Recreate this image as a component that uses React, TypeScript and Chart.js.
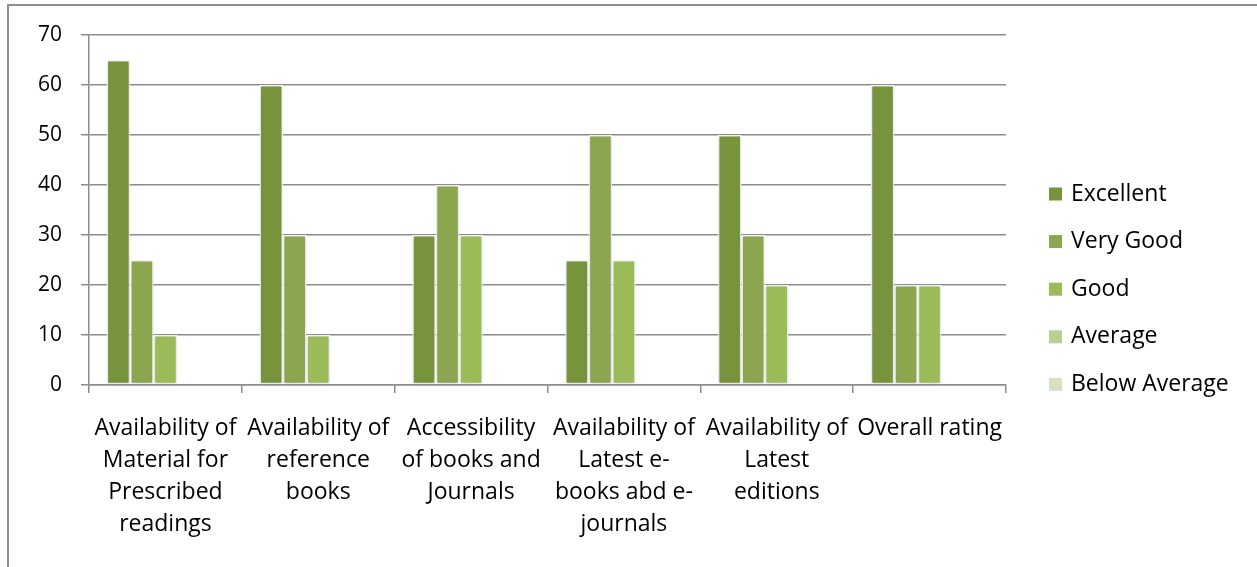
import React, { useEffect, useRef } from "react";
import { Chart, registerables } from "chart.js";

Chart.register(...registerables);

const categories: string[][] = [
  ["Availability of", "Material for", "Prescribed", "readings"],
  ["Availability of", "reference", "books"],
  ["Accessibility", "of books and", "Journals"],
  ["Availability of", "Latest e-", "books abd e-", "journals"],
  ["Availability of", "Latest", "editions"],
  ["Overall rating"],
];

const seriesNames = ["Excellent", "Very Good", "Good", "Average", "Below Average"];
const excellent = [65, 60, 30, 25, 50, 60];
const veryGood = [25, 30, 40, 50, 30, 20];
const good = [10, 10, 30, 25, 20, 20];
const average = [0, 0, 0, 0, 0, 0];
const belowAverage = [0, 0, 0, 0, 0, 0];
const yTicks = [0, 10, 20, 30, 40, 50, 60, 70];

const colors = ["#77933C", "#8CA54F", "#9BBB59", "#BACF92", "#D5E2C0"];
const FONT = "'Open Sans', sans-serif";
const GRID = "#8C8C8C";

const shadowPlugin = {
  id: "barShadow",
  beforeDatasetsDraw(chart: any) {
    const ctx = chart.ctx;
    ctx.save();
    ctx.shadowColor = "rgba(0,0,0,0.22)";
    ctx.shadowBlur = 4;
    ctx.shadowOffsetX = 0;
    ctx.shadowOffsetY = 0;
  },
  afterDatasetsDraw(chart: any) {
    chart.ctx.restore();
  },
};

const legendPlugin = {
  id: "sideLegend",
  afterDraw(chart: any) {
    const ctx = chart.ctx;
    const area = chart.chartArea;
    const x0 = area.right + 43;
    const yStart = area.top + 159;
    const step = 47.6;
    ctx.save();
    chart.data.datasets.forEach((ds: any, i: number) => {
      const yc = yStart + i * step;
      ctx.fillStyle = ds.backgroundColor;
      ctx.fillRect(x0, yc - 6.5, 13, 13);
      ctx.fillStyle = "#000";
      ctx.font = `23px ${FONT}`;
      ctx.textBaseline = "middle";
      ctx.textAlign = "left";
      ctx.fillText(ds.label, x0 + 22, yc);
    });
    ctx.restore();
  },
};

export default function App() {
  const ref = useRef<HTMLCanvasElement>(null);
  useEffect(() => {
    if (!ref.current) return;
    const values = [excellent, veryGood, good, average, belowAverage];
    const chart = new Chart(ref.current, {
      type: "bar",
      data: {
        labels: categories,
        datasets: seriesNames.map((name, i) => ({
          label: name,
          data: values[i],
          backgroundColor: colors[i],
          borderColor: "#FFFFFF",
          borderWidth: 1.5,
          borderSkipped: false,
          categoryPercentage: 5 / 6.5,
          barPercentage: 1,
        })),
      },
      options: {
        responsive: false,
        animation: false,
        layout: { padding: { left: 0, right: 251, top: 35, bottom: 0 } },
        plugins: { legend: { display: false }, tooltip: { enabled: false } },
        scales: {
          x: {
            afterFit: (s: any) => {
              s.height = 182;
            },
            grid: {
              offset: true,
              drawOnChartArea: false,
              drawTicks: true,
              tickLength: 8,
              color: GRID,
              lineWidth: 1.5,
            },
            border: { display: true, color: GRID, width: 1.5 },
            ticks: {
              autoSkip: false,
              maxRotation: 0,
              minRotation: 0,
              padding: 20,
              color: "#000",
              font: { family: FONT, size: 23, lineHeight: 1.38 },
            },
          },
          y: {
            min: 0,
            max: 70,
            afterFit: (s: any) => {
              s.width = 89;
            },
            afterBuildTicks: (s: any) => {
              s.ticks = yTicks.map((v) => ({ value: v }));
            },
            grid: {
              color: GRID,
              lineWidth: 1.5,
              drawTicks: true,
              tickLength: 8,
            },
            border: { display: true, color: GRID, width: 1.5 },
            ticks: {
              padding: 19,
              color: "#000",
              font: { family: FONT, size: 21 },
            },
          },
        },
      },
      plugins: [shadowPlugin, legendPlugin],
    });
    return () => chart.destroy();
  }, []);

  return (
    <div style={{ position: "fixed", left: 0, top: 0, width: 1257, height: 567, background: "#fff", overflow: "hidden" }}>
      <div
        style={{
          position: "absolute",
          left: 7,
          top: 4,
          width: 1400,
          height: 800,
          borderLeft: "2px solid #8E8E8E",
          borderTop: "2px solid #8E8E8E",
        }}
      />
      <canvas ref={ref} width={1257} height={567} style={{ position: "absolute", left: 0, top: 0, width: 1257, height: 567 }} />
    </div>
  );
}
